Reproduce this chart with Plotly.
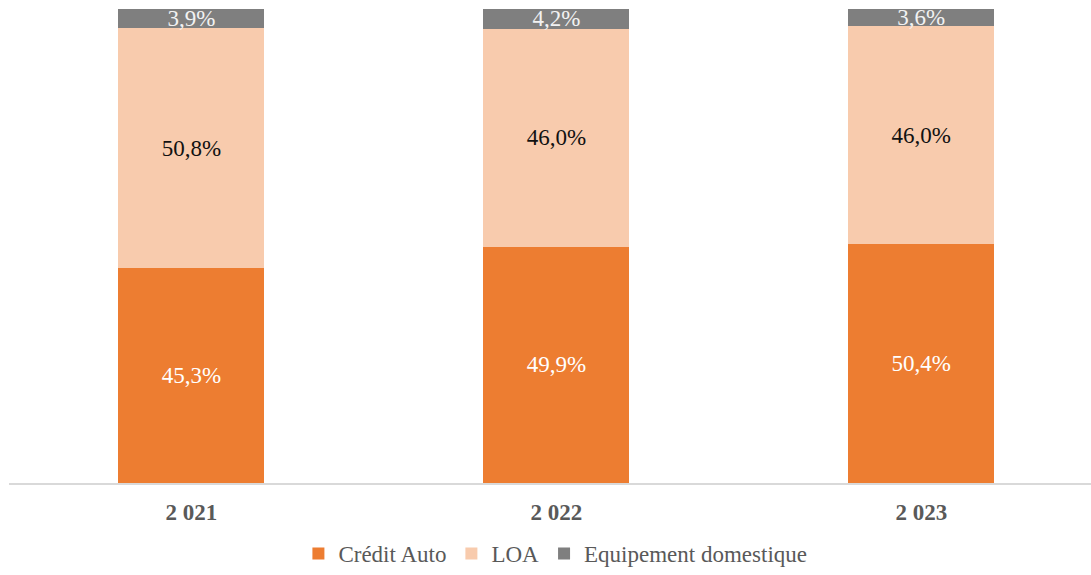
import plotly.graph_objects as go

years = ["2 021", "2 022", "2 023"]
credit_auto = [45.3, 49.9, 50.4]
loa = [50.8, 46.0, 46.0]
equipement = [3.9, 4.2, 3.6]

SERIF = "Liberation Serif"


def fmt(vals):
    return [f"{v:.1f}%".replace(".", ",") for v in vals]


fig = go.Figure()
fig.add_trace(go.Bar(
    name="Crédit Auto", x=years, y=credit_auto,
    marker={"color": "#ED7D31", "line": {"width": 0}},
    text=fmt(credit_auto), textfont={"color": "white", "size": 23, "family": SERIF},
))
fig.add_trace(go.Bar(
    name="LOA", x=years, y=loa,
    marker={"color": "#F8CBAD", "line": {"width": 0}},
    text=fmt(loa), textfont={"color": "#111111", "size": 23, "family": SERIF},
))
fig.add_trace(go.Bar(
    name="Equipement domestique", x=years, y=equipement,
    marker={"color": "#7F7F7F", "line": {"width": 0}},
    text=fmt(equipement), textfont={"color": "#F2F2F2", "size": 23, "family": SERIF},
))
fig.update_traces(
    textposition="inside", insidetextanchor="middle",
    constraintext="none", textangle=0, width=0.4, cliponaxis=False,
)

fig.update_layout(
    barmode="stack",
    width=1091, height=575,
    margin={"l": 9, "r": 0, "t": 8, "b": 91},
    plot_bgcolor="white", paper_bgcolor="white",
    font={"family": SERIF, "color": "#595959"},
    xaxis={
        "range": [-0.5, 2.465],
        "showline": True, "linecolor": "#D9D9D9", "linewidth": 2,
        "tickfont": {"size": 23, "color": "#595959", "family": SERIF, "weight": "bold"},
        "ticks": "", "ticklabelstandoff": 7,
    },
    yaxis={"range": [0, 100.3], "visible": False},
    legend={
        "orientation": "h", "x": 0.505, "xanchor": "center",
        "y": -0.104, "yanchor": "top",
        "font": {"size": 23, "color": "#595959", "family": SERIF},
        "traceorder": "normal",
    },
    showlegend=True,
)

# drop the default 8px body margin so the figure fills the window
fig.write_html(
    "out.html",
    config={"displayModeBar": False},
    post_script="document.body.style.margin='0';",
)
